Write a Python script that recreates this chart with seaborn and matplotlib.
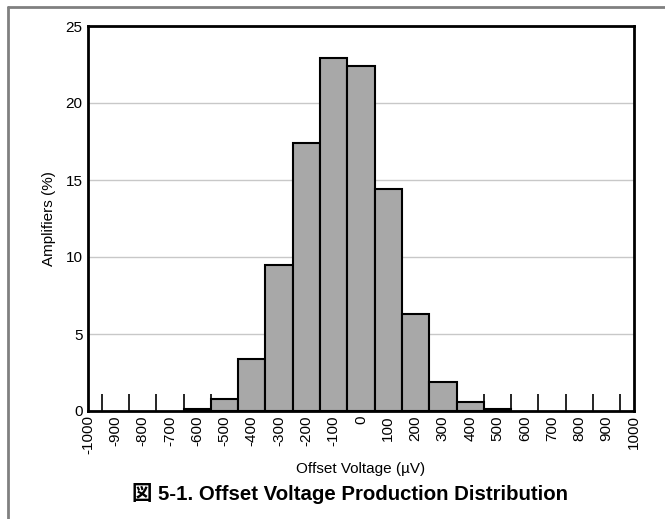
import numpy as np
import pandas as pd
import matplotlib
matplotlib.use("Agg")
import matplotlib.pyplot as plt
from matplotlib.lines import Line2D
import seaborn as sns

# Data
bin_centers = [-600, -500, -400, -300, -200, -100, 0, 100, 200, 300, 400, 500]
amplifiers_pct = [0.15, 0.8, 3.4, 9.5, 17.4, 22.9, 22.4, 14.4, 6.3, 1.9, 0.6, 0.15]
x_tick_values = list(range(-1000, 1001, 100))
x_tick_labels = [str(v) for v in x_tick_values]
y_tick_values = [0, 5, 10, 15, 20, 25]

sns.set_style("white")
plt.rcParams['font.family'] = ['Liberation Sans', 'Noto Sans CJK JP', 'DejaVu Sans']
plt.rcParams['text.color'] = 'black'
plt.rcParams['axes.labelcolor'] = 'black'
plt.rcParams['xtick.color'] = 'black'
plt.rcParams['ytick.color'] = 'black'

fig = plt.figure(figsize=(6.65, 5.19), dpi=100)
ax = fig.add_axes([88/665, 1 - 411/519, (634-88)/665, (411-26)/519])

df = pd.DataFrame({"center": bin_centers, "pct": amplifiers_pct})
sns.histplot(data=df, x="center", weights="pct", binwidth=100, binrange=(-650, 550), ax=ax,
             color="#a8a8a8", edgecolor="black", linewidth=1.5, alpha=1)

ax.set_axisbelow(True)
ax.set_xlim(-1000, 1000)
ax.set_ylim(0, 25)
ax.set_xticks(x_tick_values)
ax.set_xticklabels(x_tick_labels, rotation=90, fontsize=11)
ax.set_xticks(np.arange(-950, 951, 100), minor=True)
ax.tick_params(axis='x', which='both', bottom=True)
ax.tick_params(axis='x', which='major', length=0, pad=3)
ax.tick_params(axis='x', which='minor', length=12, width=1.2, direction='in', color='black')
ax.set_yticks(y_tick_values)
ax.tick_params(axis='y', which='major', length=0, labelsize=11, pad=4)
ax.yaxis.grid(True, color="#c8c8c8", linewidth=1)
ax.xaxis.grid(False)

for s in ax.spines.values():
    s.set_visible(True)
    s.set_color("black")
    s.set_linewidth(2)

ax.set_xlabel("Offset Voltage (µV)", fontsize=11, labelpad=6)
ax.set_ylabel("Amplifiers (%)", fontsize=11, labelpad=7)

fig.text(350/665, 1 - 493/519, "図 5-1. Offset Voltage Production Distribution",
         ha="center", va="center", fontsize=14.7, fontweight="bold",
         family=['Liberation Sans', 'Noto Sans CJK JP'])

# figure frame (top and left edges visible)
fig.add_artist(Line2D([8/665, 1], [1 - 7/519, 1 - 7/519], color="#808080", linewidth=2,
                      transform=fig.transFigure))
fig.add_artist(Line2D([8/665, 8/665], [0, 1 - 7/519], color="#808080", linewidth=2,
                      transform=fig.transFigure))

fig.savefig("out.png", dpi=100)
